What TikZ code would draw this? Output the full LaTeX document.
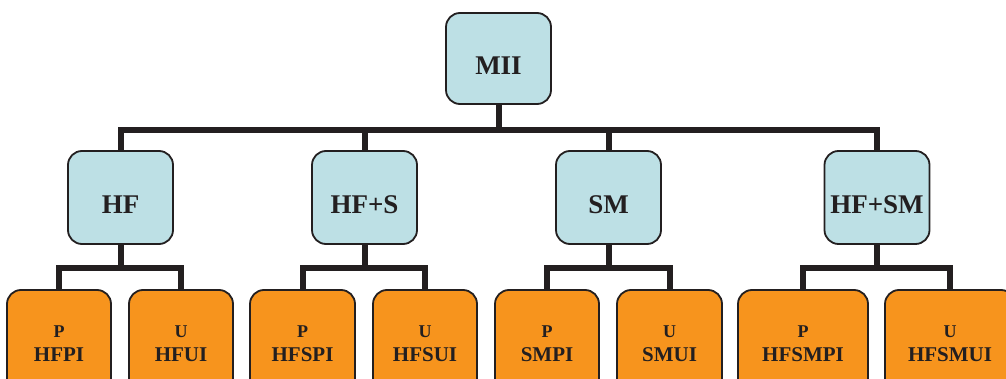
\documentclass[tikz,border=0pt]{standalone}
\usepackage{fontspec}
\setmainfont{Liberation Serif}
\definecolor{ink}{HTML}{231F20}
\definecolor{boxblue}{HTML}{BDE0E5}
\definecolor{boxorange}{HTML}{F7941D}
\begin{document}
\begin{tikzpicture}[x=1pt,y=-1pt,
  base/.style={draw=ink,line width=1.8pt,rounded corners=14pt,inner sep=0pt,align=center,text=ink,font=\bfseries},
  bluebox/.style={base,fill=boxblue,minimum width=105pt,minimum height=93pt,text height=32pt,text depth=0pt,font=\fontsize{27}{29}\selectfont\bfseries},
  leafbox/.style={base,fill=boxorange,minimum height=108pt,font=\fontsize{21}{23}\selectfont\bfseries},
  conn/.style={draw=ink,line width=6pt,line join=miter}]
\useasboundingbox (0,0) rectangle (1006,379);
\clip (0,0) rectangle (1006,379);
% top
\node[bluebox,minimum height=91pt] (MII) at (498.5,58.5) {MII};
% middle
\node[bluebox] (HF) at (120.5,197.5) {HF};
\node[bluebox] (HFS) at (364.5,197.5) {HF+S};
\node[bluebox] (SM) at (608.5,197.5) {SM};
\node[bluebox] (HFSM) at (877,197.5) {HF+SM};
% leaves
\newcommand{\lf}[2]{{\fontsize{18}{20}\selectfont #1}\\[1pt]#2}
\node[leafbox,minimum width=104pt] (HFP) at (59,344) {\lf{P}{HFPI}};
\node[leafbox,minimum width=104pt] (HFU) at (181,344) {\lf{U}{HFUI}};
\node[leafbox,minimum width=105pt] (HFSP) at (302.5,344) {\lf{P}{HFSPI}};
\node[leafbox,minimum width=104pt] (HFSU) at (425,344) {\lf{U}{HFSUI}};
\node[leafbox,minimum width=104pt] (SMP) at (547,344) {\lf{P}{SMPI}};
\node[leafbox,minimum width=105pt] (SMU) at (669.5,344) {\lf{U}{SMUI}};
\node[leafbox,minimum width=130pt] (HFSMP) at (803,344) {\lf{P}{HFSMPI}};
\node[leafbox,minimum width=130pt] (HFSMU) at (950,344) {\lf{U}{HFSMUI}};
% connectors
\coordinate (topbar) at (498.5,129.7);
\draw[conn] (MII.south) -- (topbar);
\draw[conn] (HF.north) |- (topbar) -| (HFSM.north);
\draw[conn] (HFS.north) -- (HFS.north |- topbar);
\draw[conn] (SM.north) -- (SM.north |- topbar);
\coordinate (b1) at (120.5,268.3);
\coordinate (b2) at (364.5,268.3);
\coordinate (b3) at (608.5,268.3);
\coordinate (b4) at (877,268.3);
\draw[conn] (HF.south) -- (b1);
\draw[conn] (HFP.north) |- (b1) -| (HFU.north);
\draw[conn] (HFS.south) -- (b2);
\draw[conn] (HFSP.north) |- (b2) -| (HFSU.north);
\draw[conn] (SM.south) -- (b3);
\draw[conn] (SMP.north) |- (b3) -| (SMU.north);
\draw[conn] (HFSM.south) -- (b4);
\draw[conn] (HFSMP.north) |- (b4) -| (HFSMU.north);
\end{tikzpicture}
\end{document}
